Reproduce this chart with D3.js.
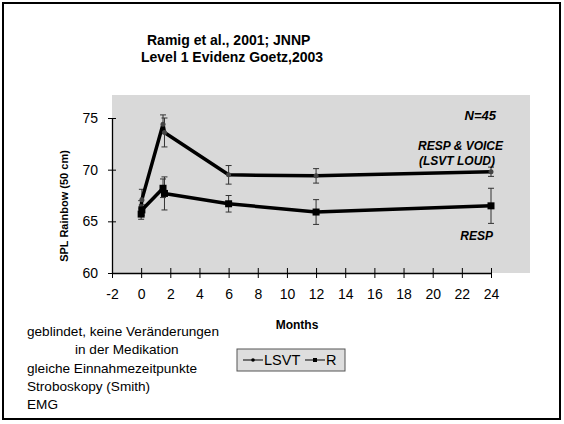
<!DOCTYPE html>
<html>
<head>
<meta charset="utf-8">
<script src="https://cdn.jsdelivr.net/npm/d3@7"></script>
<style>
  body { margin: 0; background: #fff; }
  svg { font-family: "Liberation Sans", Arial, sans-serif; }
</style>
</head>
<body>
<svg id="chart" width="564" height="424"></svg>
<script>
// measurement times (months); pre and post sessions sit close together
var months = [0, 0.05, 1.5, 1.6, 6, 12, 24];
var lsvtMean = [66.4, 67.1, 74.4, 73.6, 69.5, 69.4, 69.8];
var lsvtErr = [0.6, 1.0, 0.9, 1.4, 0.9, 0.7, 0.45];
var rMean = [65.7, 66.1, 68.2, 67.7, 66.7, 65.9, 66.5];
var rErr = [0.5, 0.5, 0.9, 1.6, 0.8, 1.2, 1.7];
var xTicks = [-2, 0, 2, 4, 6, 8, 10, 12, 14, 16, 18, 20, 22, 24];
var yTicks = [60, 65, 70, 75];
var notes = ["geblindet, keine Veränderungen", "in der Medikation", "gleiche Einnahmezeitpunkte", "Stroboskopy (Smith)", "EMG"];

var svg = d3.select("#chart");

var x = d3.scaleLinear().domain([-2, 24]).range([112, 491]);
var y = d3.scaleLinear().domain([60, 75]).range([273, 118]);

// outer frame
svg.append("rect")
  .attr("x", 3).attr("y", 3)
  .attr("width", 557).attr("height", 416)
  .attr("fill", "none")
  .attr("stroke", "#000")
  .attr("stroke-width", 2);

// title
svg.append("text")
  .attr("x", 147).attr("y", 45)
  .attr("font-size", 14).attr("font-weight", "bold")
  .text("Ramig et al., 2001; JNNP");
svg.append("text")
  .attr("x", 141).attr("y", 62)
  .attr("font-size", 14).attr("font-weight", "bold")
  .text("Level 1 Evidenz Goetz,2003");

// plot area
svg.append("rect")
  .attr("x", x(-2)).attr("y", 95)
  .attr("width", 530 - x(-2)).attr("height", y(60) - 95)
  .attr("fill", "#d9d9d9");

// axes (ticks cross the axis line, like Excel)
var xAxis = svg.append("g")
  .attr("transform", "translate(0," + y(60) + ")")
  .call(d3.axisBottom(x).tickValues(xTicks).tickSize(0).tickPadding(0).tickFormat(d => String(d)));
xAxis.select(".domain").attr("stroke", "#000").attr("stroke-width", 1.3);
xAxis.selectAll(".tick line").attr("y1", -5).attr("y2", 5).attr("stroke", "#000");
xAxis.selectAll(".tick text").attr("y", 16).attr("dy", "0.71em")
  .attr("font-size", 14).attr("fill", "#000").style("font-family", "Liberation Sans, Arial");

var yAxis = svg.append("g")
  .attr("transform", "translate(" + x(-2) + ",0)")
  .call(d3.axisLeft(y).tickValues(yTicks).tickSize(0).tickPadding(0));
yAxis.select(".domain").attr("stroke", "#000").attr("stroke-width", 1.3);
yAxis.selectAll(".tick line").attr("x1", -4).attr("x2", 4).attr("stroke", "#000");
yAxis.selectAll(".tick text").attr("x", -14)
  .attr("font-size", 14).attr("fill", "#000").style("font-family", "Liberation Sans, Arial");

svg.append("text")
  .attr("transform", "translate(68,206) rotate(-90)")
  .attr("text-anchor", "middle")
  .attr("font-size", 11).attr("font-weight", "bold")
  .text("SPL Rainbow (50 cm)");

svg.append("text")
  .attr("x", 297).attr("y", 329)
  .attr("text-anchor", "middle")
  .attr("font-size", 12).attr("font-weight", "bold")
  .text("Months");

// series
var series = [
  { name: "LSVT", mean: lsvtMean, err: lsvtErr, marker: "circle" },
  { name: "R", mean: rMean, err: rErr, marker: "square" }
];

var line = d3.line()
  .x(d => x(d.m))
  .y(d => y(d.v));

series.forEach(s => {
  var pts = months.map((m, i) => ({ m: m, v: s.mean[i], e: s.err[i] }));
  var g = svg.append("g").attr("class", "series");

  // error bars
  var eb = g.selectAll(".err").data(pts).enter().append("g").attr("class", "err")
    .attr("stroke", "#333").attr("stroke-width", 1);
  eb.append("line")
    .attr("x1", d => x(d.m)).attr("x2", d => x(d.m))
    .attr("y1", d => y(d.v + d.e)).attr("y2", d => y(d.v - d.e));
  eb.append("line")
    .attr("x1", d => x(d.m) - 3).attr("x2", d => x(d.m) + 3)
    .attr("y1", d => y(d.v + d.e)).attr("y2", d => y(d.v + d.e));
  eb.append("line")
    .attr("x1", d => x(d.m) - 3).attr("x2", d => x(d.m) + 3)
    .attr("y1", d => y(d.v - d.e)).attr("y2", d => y(d.v - d.e));

  g.append("path")
    .datum(pts)
    .attr("fill", "none")
    .attr("stroke", "#000")
    .attr("stroke-width", 3.5)
    .attr("stroke-linejoin", "round")
    .attr("d", line);

  if (s.marker == "circle") {
    g.selectAll(".pt").data(pts).enter().append("circle")
      .attr("cx", d => x(d.m)).attr("cy", d => y(d.v))
      .attr("r", 2.5).attr("fill", "#444");
  } else {
    g.selectAll(".pt").data(pts).enter().append("rect")
      .attr("x", d => x(d.m) - 3.5).attr("y", d => y(d.v) - 3.5)
      .attr("width", 7).attr("height", 7).attr("fill", "#000");
  }
});

// annotations
var ann = [
  { t: "N=45", x: 496, y: 120, s: 13 },
  { t: "RESP & VOICE", x: 503, y: 150, s: 12 },
  { t: "(LSVT LOUD)", x: 495, y: 165, s: 12 },
  { t: "RESP", x: 493, y: 240, s: 12 }
];
svg.selectAll(".ann").data(ann).enter().append("text")
  .attr("x", d => d.x).attr("y", d => d.y)
  .attr("text-anchor", "end")
  .attr("font-size", d => d.s)
  .attr("font-weight", "bold").attr("font-style", "italic")
  .text(d => d.t);

// notes bottom left
svg.selectAll(".note").data(notes).enter().append("text")
  .attr("x", (d, i) => i == 1 ? 75 : 27)
  .attr("y", (d, i) => 336 + i * 18.3)
  .attr("font-size", 13.6)
  .text(d => d);

// legend
var leg = svg.append("g").attr("transform", "translate(237,349)");
leg.append("rect")
  .attr("width", 108).attr("height", 22)
  .attr("fill", "#dedede").attr("stroke", "#555").attr("stroke-width", 1);
var legItems = [
  { name: "LSVT", marker: "circle", x: 6 },
  { name: "R", marker: "square", x: 68 }
];
legItems.forEach(it => {
  leg.append("line")
    .attr("x1", it.x).attr("x2", it.x + 20)
    .attr("y1", 11).attr("y2", 11)
    .attr("stroke", "#000").attr("stroke-width", 1);
  if (it.marker == "circle") {
    leg.append("circle").attr("cx", it.x + 10).attr("cy", 11).attr("r", 1.8).attr("fill", "#000");
  } else {
    leg.append("rect").attr("x", it.x + 8).attr("y", 9).attr("width", 4).attr("height", 4).attr("fill", "#000");
  }
  leg.append("text")
    .attr("x", it.x + 21).attr("y", 16)
    .attr("font-size", 14.5)
    .text(it.name);
});
</script>
</body>
</html>
